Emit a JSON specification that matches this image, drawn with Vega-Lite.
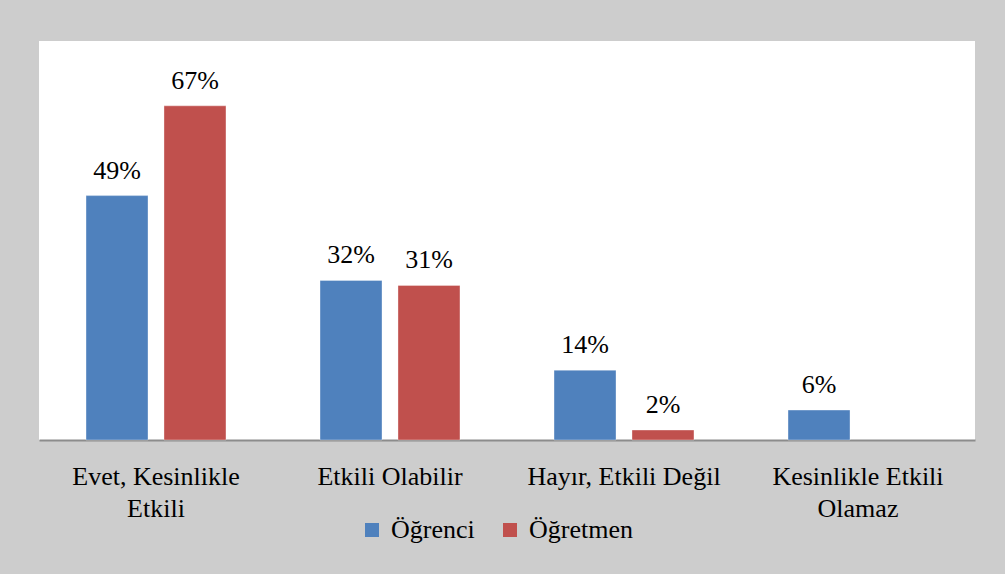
{
  "$schema": "https://vega.github.io/schema/vega-lite/v6.json",
  "width": 936,
  "height": 399,
  "autosize": {"type": "none"},
  "padding": {"left": 39, "top": 41, "right": 30, "bottom": 134},
  "background": "#cdcdcd",
  "data": {
    "values": [
      {"category": "Evet, Kesinlikle Etkili", "group": "Öğrenci", "value": 0.49},
      {"category": "Evet, Kesinlikle Etkili", "group": "Öğretmen", "value": 0.67},
      {"category": "Etkili Olabilir", "group": "Öğrenci", "value": 0.32},
      {"category": "Etkili Olabilir", "group": "Öğretmen", "value": 0.31},
      {"category": "Hayır, Etkili Değil", "group": "Öğrenci", "value": 0.14},
      {"category": "Hayır, Etkili Değil", "group": "Öğretmen", "value": 0.02},
      {"category": "Kesinlikle Etkili Olamaz", "group": "Öğrenci", "value": 0.06}
    ]
  },
  "encoding": {
    "x": {
      "field": "category",
      "type": "nominal",
      "sort": null,
      "scale": {"paddingInner": 0, "paddingOuter": 0},
      "axis": {
        "title": null,
        "ticks": false,
        "grid": false,
        "domainColor": "#8c8c8c",
        "domainWidth": 2,
        "labelAngle": 0,
        "labelFont": "'Liberation Serif', 'DejaVu Serif', serif",
        "labelFontSize": 26,
        "labelColor": "#000000",
        "labelPadding": 23,
        "labelLineHeight": 32,
        "labelLimit": 400,
        "labelExpr": "datum.label == 'Evet, Kesinlikle Etkili' ? ['Evet, Kesinlikle', 'Etkili'] : datum.label == 'Kesinlikle Etkili Olamaz' ? ['Kesinlikle Etkili', 'Olamaz'] : datum.label"
      }
    },
    "xOffset": {
      "field": "group",
      "type": "nominal",
      "scale": {"domain": ["Öğrenci", "Öğretmen"], "paddingInner": 0.205, "paddingOuter": 0.603}
    },
    "y": {
      "field": "value",
      "type": "quantitative",
      "scale": {"domain": [0, 0.8]},
      "axis": null
    }
  },
  "layer": [
    {
      "mark": {"type": "bar", "stroke": "#ffffff", "strokeOpacity": 0.35, "strokeWidth": 1},
      "encoding": {
        "color": {
          "field": "group",
          "type": "nominal",
          "scale": {"domain": ["Öğrenci", "Öğretmen"], "range": ["#4F81BD", "#C0504D"]},
          "legend": {
            "title": null,
            "orient": "none",
            "direction": "horizontal",
            "legendX": 320,
            "legendY": 476,
            "symbolType": "square",
            "symbolSize": 196,
            "symbolStrokeWidth": 0,
            "labelFont": "'Liberation Serif', 'DejaVu Serif', serif",
            "labelFontSize": 26,
            "labelColor": "#000000",
            "labelOffset": 6,
            "columnPadding": 22,
            "labelLimit": 300
          }
        }
      }
    },
    {
      "mark": {
        "type": "text",
        "baseline": "alphabetic",
        "dy": -17,
        "font": "'Liberation Serif', 'DejaVu Serif', serif",
        "fontSize": 26,
        "color": "#000000"
      },
      "encoding": {
        "text": {"field": "value", "type": "quantitative", "format": ".0%"}
      }
    }
  ],
  "config": {
    "view": {"fill": "#ffffff", "stroke": null}
  }
}
